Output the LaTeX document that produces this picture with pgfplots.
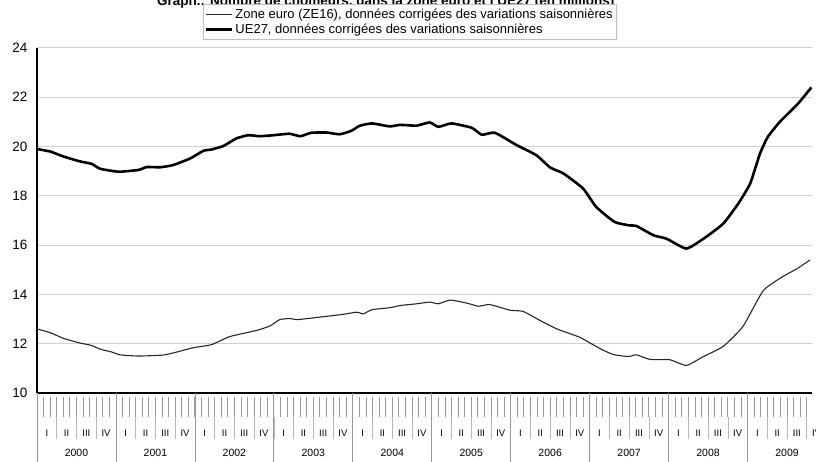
\documentclass[border=0pt]{standalone}
\usepackage{fontspec}
\setmainfont{Liberation Sans}
\usepackage{pgfplots}
\pgfplotsset{compat=1.18}
\definecolor{gridc}{gray}{0.82}
\definecolor{tickc}{gray}{0.6}
\definecolor{qc}{gray}{0.72}
\begin{document}
\begin{tikzpicture}[x=1pt,y=1pt]
\begin{axis}[
  at={(0,0)}, anchor=south west,
  scale only axis, width=775pt, height=345pt,
  xmin=0, xmax=117.8, ymin=10, ymax=24,
  ytick={10,12,...,24}, xtick=\empty,
  axis x line*=bottom, axis y line*=left,
  axis line style={line width=1.3pt, black},
  ymajorgrids, grid style={gridc, line width=1pt},
  major tick length=0pt,
  yticklabel style={font=\fontsize{13.5}{15}\selectfont, xshift=-6pt},
  /pgf/number format/assume math mode=true,
  clip=false,
  legend style={at={(0.481,1)}, anchor=south, yshift=9pt, draw=gray!50,
    font=\fontsize{13}{15}\selectfont, row sep=0pt, inner sep=2pt,
    cells={anchor=west}},
  legend image code/.code={\draw[#1] (0pt,0pt) -- (26pt,0pt);},
]
\addplot[line width=1.1pt, black!85, smooth, tension=0.3] coordinates {
(0,12.60) (2,12.45) (4,12.22) (6.5,12.03) (8.3,11.93) (9.6,11.78) (11.4,11.66)
(12.6,11.55) (15.4,11.50) (19.2,11.54) (21.2,11.66) (23.8,11.84) (26.5,11.96)
(29.3,12.29) (33.4,12.54) (35.4,12.72) (36.9,12.98) (38.4,13.02) (39.7,12.98)
(43,13.08) (46.5,13.19) (48.6,13.28) (49.6,13.21) (50.9,13.38) (53.6,13.46)
(55.2,13.55) (57.7,13.62) (59.7,13.69) (61,13.62) (62.8,13.77) (65.3,13.65)
(67.1,13.52) (68.8,13.59) (71.9,13.36) (73.9,13.31) (76.9,12.88) (79.2,12.58)
(82.5,12.26) (85.6,11.80) (87.6,11.56) (89.9,11.48) (91.1,11.55) (93.2,11.36)
(96.2,11.35) (98.7,11.12) (101.3,11.48) (104.3,11.89) (107.3,12.70) (110.4,14.16)
(113.4,14.73) (115.5,15.04) (117.5,15.40)
};
\addlegendentry{Zone euro (ZE16), données corrigées des variations saisonnières}
\addplot[line width=2.6pt, black, smooth, tension=0.3] coordinates {
(0,19.90) (2,19.80) (4,19.60) (6.5,19.40) (8.3,19.30) (9.6,19.10) (12.4,18.98)
(15.4,19.05) (16.7,19.17) (18.7,19.16) (20.7,19.25) (23.3,19.52) (25.3,19.83)
(26.5,19.88) (28.3,20.02) (30.3,20.33) (32.1,20.46) (33.9,20.42) (35.9,20.46)
(38.4,20.52) (40,20.42) (41.7,20.56) (44,20.57) (46,20.50) (47.8,20.64)
(49,20.84) (50.9,20.94) (53.6,20.82) (55.2,20.88) (57.7,20.85) (59.7,20.98)
(61,20.80) (63,20.94) (66.1,20.76) (67.6,20.48) (69.6,20.56) (72.9,20.06)
(75.9,19.65) (78,19.15) (80,18.91) (83,18.30) (85,17.55) (87.8,16.94)
(90.1,16.80) (91.1,16.78) (93.7,16.40) (95.7,16.26) (98.7,15.86) (101.3,16.26)
(104.3,16.87) (106.6,17.69) (108.4,18.50) (109.9,19.72) (111.1,20.40)
(112.9,21.00) (115.7,21.75) (117.7,22.40)
};
\addlegendentry{UE27, données corrigées des variations saisonnières}
% month ticks
\pgfplotsinvokeforeach{0,...,117}{
  \draw[tickc, line width=0.8pt] ([yshift=-4pt]axis cs:#1,10) -- ([yshift=-24pt]axis cs:#1,10);
}
% quarter separators
\pgfplotsinvokeforeach{0,...,39}{
  \draw[qc, line width=0.6pt] ([yshift=-24pt]axis cs:3*#1,10) -- ([yshift=-46pt]axis cs:3*#1,10);
}
% year separators and quarter labels
\pgfplotsinvokeforeach{0,...,9}{
  \draw[tickc, line width=0.7pt] (axis cs:12*#1,10) -- ([yshift=-70pt]axis cs:12*#1,10);
  \node[font=\fontsize{9.5}{11}\selectfont] at ([yshift=-40pt]axis cs:12*#1+1.5,10) {I};
  \node[font=\fontsize{9.5}{11}\selectfont] at ([yshift=-40pt]axis cs:12*#1+4.5,10) {II};
  \node[font=\fontsize{9.5}{11}\selectfont] at ([yshift=-40pt]axis cs:12*#1+7.5,10) {III};
  \node[font=\fontsize{9.5}{11}\selectfont] at ([yshift=-40pt]axis cs:12*#1+10.5,10) {IV};
}
\node[font=\fontsize{10.5}{12}\selectfont] at ([yshift=-60pt]axis cs:6,10) {2000};
\node[font=\fontsize{10.5}{12}\selectfont] at ([yshift=-60pt]axis cs:18,10) {2001};
\node[font=\fontsize{10.5}{12}\selectfont] at ([yshift=-60pt]axis cs:30,10) {2002};
\node[font=\fontsize{10.5}{12}\selectfont] at ([yshift=-60pt]axis cs:42,10) {2003};
\node[font=\fontsize{10.5}{12}\selectfont] at ([yshift=-60pt]axis cs:54,10) {2004};
\node[font=\fontsize{10.5}{12}\selectfont] at ([yshift=-60pt]axis cs:66,10) {2005};
\node[font=\fontsize{10.5}{12}\selectfont] at ([yshift=-60pt]axis cs:78,10) {2006};
\node[font=\fontsize{10.5}{12}\selectfont] at ([yshift=-60pt]axis cs:90,10) {2007};
\node[font=\fontsize{10.5}{12}\selectfont] at ([yshift=-60pt]axis cs:102,10) {2008};
\node[font=\fontsize{10.5}{12}\selectfont] at ([yshift=-60pt]axis cs:114,10) {2009};
% title (cut at top as in the scan)
\node[font=\bfseries\fontsize{13.5}{16}\selectfont, anchor=base] at ([yshift=42pt]rel axis cs:0.45,1)
  {Graph.: Nombre de chômeurs, dans la zone euro et l'UE27 (en millions)};
\end{axis}
\pgfresetboundingbox
\useasboundingbox (-37,-68) rectangle (779,393);
\end{tikzpicture}
\end{document}
